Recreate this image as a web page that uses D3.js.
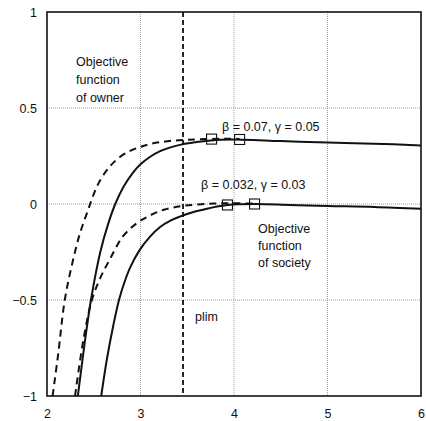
<!DOCTYPE html>
<html><head><meta charset="utf-8">
<script src="https://cdn.jsdelivr.net/npm/d3@7"></script>
<style>body{margin:0;background:#fff}text{font-family:"Liberation Sans",Arial,sans-serif;fill:#111}</style>
</head><body><svg id="c" width="426" height="421"></svg>
<script>
const xTicks=[2,3,4,5,6];
const yTicks=[-1,-0.5,0,0.5,1];
const yTickLabels=["\u22121","\u22120.5","0","0.5","1"];
const ownerSolidX=[2.33,2.40,2.47,2.57,2.65,2.73,2.82,2.92,3.0,3.1,3.21,3.32,3.42,3.55,3.7,3.85,4.0,4.5,5.0,5.5,6.0];
const ownerSolidY=[-1.0,-0.735,-0.5,-0.25,-0.11,0,0.091,0.164,0.207,0.245,0.275,0.295,0.308,0.319,0.328,0.334,0.336,0.328,0.32,0.314,0.305];
const ownerDashedX=[2.06,2.12,2.19,2.27,2.35,2.44,2.5,2.57,2.67,2.78,2.9,3.0,3.1,3.21,3.35,3.5,3.7,3.9,4.06];
const ownerDashedY=[-1,-0.78,-0.5,-0.31,-0.157,-0.03,0.052,0.125,0.194,0.245,0.279,0.298,0.312,0.322,0.33,0.335,0.338,0.34,0.339];
const societySolidX=[2.58,2.64,2.71,2.77,2.83,2.89,2.99,3.1,3.21,3.32,3.42,3.55,3.67,3.8,3.93,4.22,4.6,5.0,5.5,6.0];
const societySolidY=[-1,-0.81,-0.63,-0.5,-0.405,-0.33,-0.24,-0.171,-0.12,-0.087,-0.066,-0.044,-0.03,-0.015,-0.005,0,-0.005,-0.01,-0.015,-0.025];
const societyDashedX=[2.30,2.39,2.48,2.57,2.67,2.81,2.96,3.1,3.25,3.45,3.7,3.95,4.22];
const societyDashedY=[-1,-0.705,-0.5,-0.385,-0.29,-0.17,-0.1,-0.06,-0.03,-0.01,0,0.004,0.002];
const markerX=[3.76,4.06,3.93,4.22];
const markerY=[0.338,0.336,-0.005,0.0];
const plim=3.455;

const svg=d3.select("#c");
const L=47,R=421,T=12,B=396;
const x=d3.scaleLinear().domain([2,6]).range([L,R]);
const y=d3.scaleLinear().domain([-1,1]).range([B,T]);

svg.append("defs").append("clipPath").attr("id","clip").append("rect")
 .attr("x",L).attr("y",T).attr("width",R-L).attr("height",B-T);

const g=svg.append("g");
g.selectAll(".gx").data(xTicks.slice(1,-1)).enter().append("line")
 .attr("x1",d=>x(d)).attr("x2",d=>x(d)).attr("y1",T).attr("y2",B)
 .attr("stroke","#888").attr("stroke-width",0.8).attr("stroke-dasharray","1,1");
g.selectAll(".gy").data(yTicks.slice(1,-1)).enter().append("line")
 .attr("y1",d=>y(d)).attr("y2",d=>y(d)).attr("x1",L).attr("x2",R)
 .attr("stroke","#888").attr("stroke-width",0.8).attr("stroke-dasharray","1,1");

const xa=svg.append("g").attr("transform",`translate(0,${B})`)
 .call(d3.axisBottom(x).tickValues(xTicks).tickSize(0).tickPadding(13).tickFormat(d3.format("d")));
xa.select(".domain").remove();
xa.selectAll("text").attr("font-size",12.5).style("font-family","Liberation Sans, Arial, sans-serif").attr("fill","#111");
const ya=svg.append("g").attr("transform",`translate(${L},0)`)
 .call(d3.axisLeft(y).tickValues(yTicks).tickSize(0).tickPadding(10).tickFormat((d,i)=>yTickLabels[i]));
ya.select(".domain").remove();
ya.selectAll("text").attr("font-size",12.5).style("font-family","Liberation Sans, Arial, sans-serif").attr("fill","#111");

svg.append("rect").attr("x",L).attr("y",T).attr("width",R-L).attr("height",B-T)
 .attr("fill","none").attr("stroke","#111").attr("stroke-width",1.6);

const line=d3.line().x(d=>x(d[0])).y(d=>y(d[1])).curve(d3.curveCatmullRom.alpha(0.5));
const cg=svg.append("g").attr("clip-path","url(#clip)");
function draw(xs,ys,dash){
  cg.append("path").datum(xs.map((v,i)=>[v,ys[i]])).attr("d",line)
   .attr("fill","none").attr("stroke","#111").attr("stroke-width",2)
   .attr("stroke-dasharray",dash||null);
}
draw(ownerSolidX,ownerSolidY);
draw(societySolidX,societySolidY);
draw(ownerDashedX,ownerDashedY,"7,5");
draw(societyDashedX,societyDashedY,"7,5");

cg.append("line").attr("x1",x(plim)).attr("x2",x(plim)).attr("y1",T).attr("y2",B)
 .attr("stroke","#111").attr("stroke-width",1.8).attr("stroke-dasharray","5,3");

svg.selectAll(".m").data(markerX).enter().append("rect")
 .attr("x",(d,i)=>x(d)-5).attr("y",(d,i)=>y(markerY[i])-5).attr("width",10).attr("height",10)
 .attr("fill","none").attr("stroke","#111").attr("stroke-width",1.1);

function txt(lines,x0,y0,dy){
  const t=svg.append("text").attr("font-size",12.5);
  lines.forEach((s,i)=>t.append("tspan").attr("x",x0).attr("y",y0+i*dy).text(s));
}
txt(["Objective","function","of owner"],76,66,18);
txt(["Objective","function","of society"],258,233,17);
txt(["\u03b2 = 0.07, \u03b3 = 0.05"],222,131,0);
txt(["\u03b2 = 0.032, \u03b3 = 0.03"],201,189,0);
txt(["plim"],195,321,0);
</script></body></html>
